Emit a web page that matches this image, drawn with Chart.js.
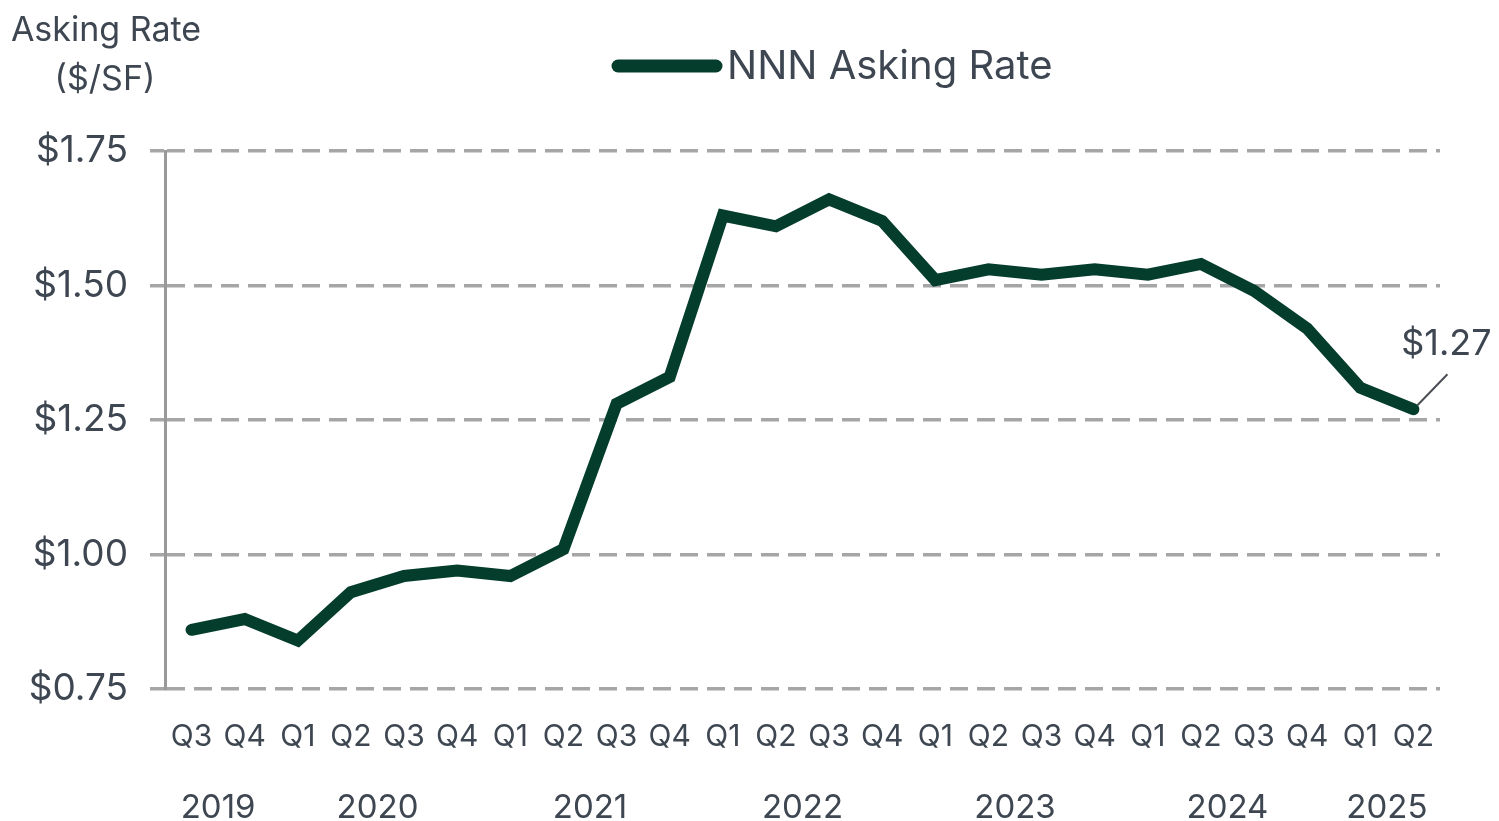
<!DOCTYPE html>
<html>
<head>
<meta charset="utf-8">
<script src="https://cdn.jsdelivr.net/npm/chart.js@4/dist/chart.umd.min.js"></script>
<style>
  html, body { margin: 0; padding: 0; background: #ffffff; }
  #wrap { width: 1499px; height: 821px; position: relative; }
</style>
</head>
<body>
<div id="wrap"><canvas id="chart"></canvas></div>
<script>
// quarters Q3 2019 .. Q2 2025
const quarters = ['Q3','Q4','Q1','Q2','Q3','Q4','Q1','Q2','Q3','Q4','Q1','Q2','Q3','Q4','Q1','Q2','Q3','Q4','Q1','Q2','Q3','Q4','Q1','Q2'];
const askingRate = [0.86, 0.88, 0.84, 0.93, 0.96, 0.97, 0.96, 1.01, 1.28, 1.33, 1.63, 1.61, 1.66, 1.62, 1.51, 1.53, 1.52, 1.53, 1.52, 1.54, 1.49, 1.42, 1.31, 1.27];
// year label, first and last quarter index it spans
const years = [['2019', 0, 1], ['2020', 2, 5], ['2021', 6, 9], ['2022', 10, 13], ['2023', 14, 17], ['2024', 18, 21], ['2025', 22, 23]];
const yTicks = [0.75, 1.00, 1.25, 1.50, 1.75];
const seriesName = 'NNN Asking Rate';
const lastLabel = '$1.27';

const FONT = 'Inter, "Open Sans", sans-serif';
const TEXT = '#3d4651';
const GREEN = '#043d2b';

const extras = {
  id: 'extras',
  afterDraw(chart) {
    const ctx = chart.ctx;
    const x = chart.scales.x, y = chart.scales.y;
    ctx.save();
    ctx.fillStyle = TEXT;
    ctx.textBaseline = 'middle';

    // axis title
    ctx.font = '34px ' + FONT;
    ctx.textAlign = 'center';
    ctx.fillText('Asking Rate', 106, 31);
    ctx.fillText('($/SF)', 105, 80);

    // year row
    ctx.font = '33px ' + FONT;
    years.forEach(([label, a, b]) => {
      const cx = (x.getPixelForValue(a) + x.getPixelForValue(b)) / 2;
      ctx.fillText(label, cx, 808);
    });

    // legend
    ctx.strokeStyle = GREEN;
    ctx.lineWidth = 13;
    ctx.lineCap = 'round';
    ctx.beginPath();
    ctx.moveTo(618, 66);
    ctx.lineTo(716, 66);
    ctx.stroke();
    ctx.font = '40px ' + FONT;
    ctx.textAlign = 'left';
    ctx.fillText(seriesName, 727, 67);

    // last value callout
    const i = askingRate.length - 1;
    const px = x.getPixelForValue(i), py = y.getPixelForValue(askingRate[i]);
    ctx.strokeStyle = '#4a4f55';
    ctx.lineWidth = 2;
    ctx.lineCap = 'butt';
    ctx.beginPath();
    ctx.moveTo(px + 4, py - 4);
    ctx.lineTo(px + 34, py - 35);
    ctx.stroke();
    ctx.font = '36px ' + FONT;
    ctx.textAlign = 'center';
    ctx.fillText(lastLabel, px + 33, py - 65);
    ctx.restore();
  }
};

new Chart(document.getElementById('chart'), {
  type: 'line',
  data: {
    labels: quarters,
    datasets: [{
      label: seriesName,
      data: askingRate,
      borderColor: GREEN,
      backgroundColor: GREEN,
      borderWidth: 12,
      borderCapStyle: 'round',
      borderJoinStyle: 'miter',
      pointRadius: 0,
      tension: 0
    }]
  },
  options: {
    responsive: true,
    maintainAspectRatio: false,
    animation: false,
    layout: { padding: { top: 151, right: 59, bottom: 0, left: 0 } },
    plugins: { legend: { display: false }, tooltip: { enabled: false } },
    scales: {
      x: {
        offset: true,
        grid: { display: false, drawTicks: false },
        border: { display: false },
        ticks: { color: TEXT, font: { family: FONT, size: 30 }, padding: 30, maxRotation: 0, autoSkip: false },
        afterFit(scale) { scale.height = 132; }
      },
      y: {
        min: 0.75,
        max: 1.75,
        afterBuildTicks(scale) { scale.ticks = yTicks.map(v => ({ value: v })); },
        grid: { color: '#a6a6a6', lineWidth: 3.5, tickLength: 15 },
        border: { display: true, color: '#999999', width: 3, dash: [18, 9] },
        ticks: {
          color: TEXT,
          font: { family: FONT, size: 37 },
          padding: 22,
          callback: v => '$' + Number(v).toFixed(2)
        },
        afterFit(scale) { scale.width = 165; }
      }
    }
  },
  plugins: [extras]
});
</script>
</body>
</html>
